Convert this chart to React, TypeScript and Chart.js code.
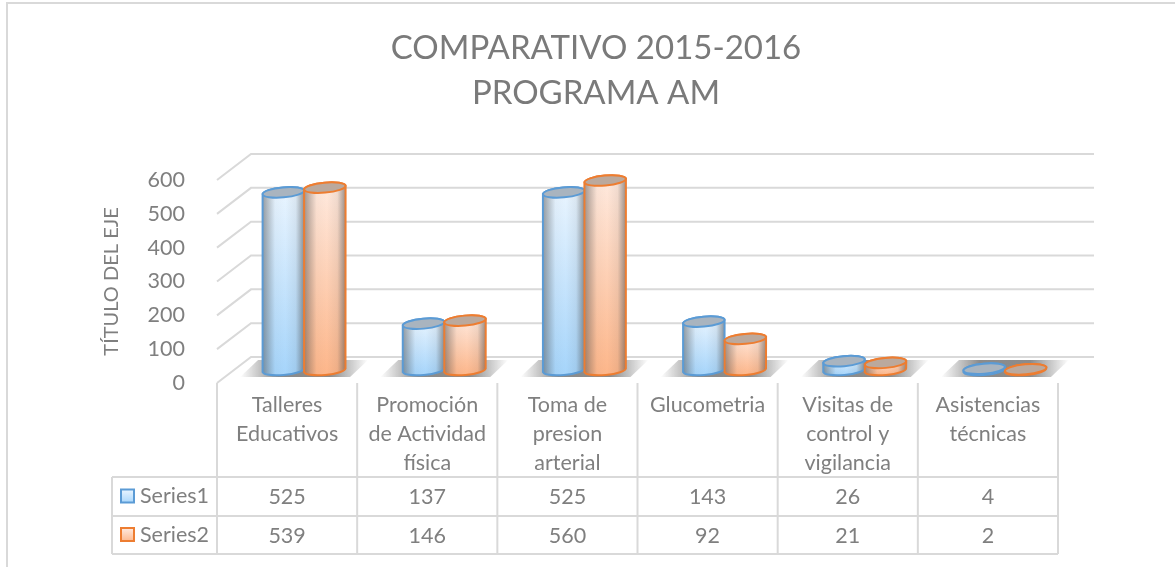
import React, { useEffect, useRef } from "react";
import { Chart, registerables } from "chart.js";

Chart.register(...registerables);

const categories = [
  ["Talleres", "Educativos"],
  ["Promoción", "de Actividad", "física"],
  ["Toma de", "presion", "arterial"],
  ["Glucometria"],
  ["Visitas de", "control y", "vigilancia"],
  ["Asistencias", "técnicas"],
];
const seriesNames = ["Series1", "Series2"];
const series1 = [525, 137, 525, 143, 26, 4];
const series2 = [539, 146, 560, 92, 21, 2];
const titleLines = ["COMPARATIVO 2015-2016", "PROGRAMA AM"];
const yAxisTitle = "TÍTULO DEL EJE";

const TEXT = "#7f7f7f";
const LINE = "#d9d9d9";
const FONT = "Lato, Carlito, 'Open Sans', sans-serif";
const FS = 21.5;

const palette = [
  { stroke: "#5b9bd5", top: "#eaf5ff", bottom: "#a6d5fb", cap: "#a9b4bf" },
  { stroke: "#ed7d31", top: "#ffeadf", bottom: "#fdb68a", cap: "#bba99d" },
];

function cylinder(ctx: CanvasRenderingContext2D, el: any, p: any) {
  const rx = el.width / 2;
  const ry = 5;
  const rot = -0.09;
  const x = el.x;
  const top = el.y;
  const base = el.base;
  const dy = rx * Math.sin(-rot);

  const body = () => {
    ctx.beginPath();
    ctx.moveTo(x - rx, top + dy);
    ctx.lineTo(x - rx, base + dy);
    ctx.ellipse(x, base, rx, ry, rot, Math.PI, 0, true);
    ctx.lineTo(x + rx, top - dy);
    ctx.ellipse(x, top, rx, ry, rot, 0, Math.PI, true);
    ctx.closePath();
  };

  body();
  const v = ctx.createLinearGradient(0, top - ry, 0, base + ry);
  v.addColorStop(0, p.top);
  v.addColorStop(1, p.bottom);
  ctx.fillStyle = v;
  ctx.fill();

  const h = ctx.createLinearGradient(x - rx, 0, x + rx, 0);
  h.addColorStop(0, "rgba(70,70,70,0.5)");
  h.addColorStop(0.3, "rgba(70,70,70,0.03)");
  h.addColorStop(0.55, "rgba(70,70,70,0)");
  h.addColorStop(0.8, "rgba(70,70,70,0.08)");
  h.addColorStop(1, "rgba(70,70,70,0.55)");
  ctx.fillStyle = h;
  ctx.fill();

  ctx.strokeStyle = p.stroke;
  ctx.lineWidth = 2;
  ctx.stroke();

  ctx.beginPath();
  ctx.ellipse(x, top, rx, ry, rot, 0, Math.PI * 2);
  ctx.fillStyle = p.cap;
  ctx.fill();
  ctx.stroke();
}

const excelPlugin = {
  id: "excelLook",
  afterLayout(chart: any) {
    // the title is centred on the whole frame, not on the plot
    chart.titleBlock.left += 17;
    chart.titleBlock.right += 17;
  },
  beforeDatasetsDraw(chart: any) {
    const { ctx, scales } = chart;
    const { x: xs, y: ys } = scales;
    const BACK_X = 34;
    const BACK_Y = -26;
    const RIGHT = 1094;
    const DX = 17;
    const DY = -13;

    // outer frame
    ctx.save();
    ctx.strokeStyle = LINE;
    ctx.lineWidth = 2;
    ctx.beginPath();
    ctx.moveTo(7, 567);
    ctx.lineTo(7, 3);
    ctx.lineTo(1175, 3);
    ctx.stroke();

    // walls
    ys.ticks.forEach((t: any) => {
      const py = ys.getPixelForValue(t.value);
      ctx.beginPath();
      ctx.moveTo(xs.left, py);
      ctx.lineTo(xs.left + BACK_X, py + BACK_Y);
      ctx.lineTo(RIGHT, py + BACK_Y);
      ctx.stroke();
    });

    // floor shadows
    categories.forEach((_, i) => {
      const c = xs.getPixelForTick(i) + DX;
      const g = ctx.createLinearGradient(c - 64, 0, c + 64, 0);
      g.addColorStop(0, "rgba(90,90,90,0)");
      g.addColorStop(0.3, "rgba(90,90,90,0.7)");
      g.addColorStop(0.7, "rgba(90,90,90,0.7)");
      g.addColorStop(1, "rgba(90,90,90,0)");
      ctx.fillStyle = g;
      ctx.beginPath();
      ctx.moveTo(c - 64, ys.bottom + DY + 7);
      ctx.lineTo(c - 46, ys.bottom + DY - 10);
      ctx.lineTo(c + 64, ys.bottom + DY - 10);
      ctx.lineTo(c + 46, ys.bottom + DY + 7);
      ctx.closePath();
      ctx.fill();
    });

    // cylinders
    ctx.translate(DX, DY);
    const m0 = chart.getDatasetMeta(0).data;
    const m1 = chart.getDatasetMeta(1).data;
    categories.forEach((_, i) => {
      cylinder(ctx, m0[i], palette[0]);
      cylinder(ctx, m1[i], palette[1]);
    });
    ctx.restore();
  },
  beforeDatasetDraw() {
    return false;
  },
  afterDraw(chart: any) {
    const { ctx, scales } = chart;
    const xs = scales.x;
    const colW = xs.width / categories.length;
    const headBottom = 477;
    const rowBottoms = [516, 554];
    const LEFT = 112;

    ctx.save();
    ctx.strokeStyle = LINE;
    ctx.lineWidth = 2;
    for (let i = 0; i <= categories.length; i++) {
      const px = xs.left + i * colW;
      ctx.beginPath();
      ctx.moveTo(px, xs.top);
      ctx.lineTo(px, rowBottoms[1]);
      ctx.stroke();
    }
    ctx.beginPath();
    ctx.moveTo(LEFT, headBottom);
    ctx.lineTo(LEFT, rowBottoms[1]);
    ctx.stroke();
    [headBottom, ...rowBottoms].forEach((py) => {
      ctx.beginPath();
      ctx.moveTo(LEFT, py);
      ctx.lineTo(xs.right, py);
      ctx.stroke();
    });

    ctx.font = `${FS}px ${FONT}`;
    ctx.fillStyle = TEXT;
    ctx.textBaseline = "middle";
    [series1, series2].forEach((vals, r) => {
      const top = r === 0 ? headBottom : rowBottoms[0];
      const cy = (top + rowBottoms[r]) / 2;
      ctx.textAlign = "center";
      ctx.fillStyle = TEXT;
      vals.forEach((v, i) => {
        ctx.fillText(String(v), xs.getPixelForTick(i), cy + 1);
      });
      ctx.textAlign = "left";
      ctx.fillText(seriesNames[r], 140, cy);
      const p = palette[r];
      const g = ctx.createLinearGradient(0, cy - 7, 0, cy + 7);
      g.addColorStop(0, p.top);
      g.addColorStop(1, p.bottom);
      ctx.fillStyle = g;
      ctx.strokeStyle = p.stroke;
      ctx.lineWidth = 2;
      ctx.beginPath();
      ctx.rect(121, cy - 7, 13, 13);
      ctx.fill();
      ctx.stroke();
      ctx.strokeStyle = LINE;
    });
    ctx.restore();
  },
};

export default function App() {
  const ref = useRef<HTMLCanvasElement>(null);
  useEffect(() => {
    const chart = new Chart(ref.current as HTMLCanvasElement, {
      type: "bar",
      data: {
        labels: categories as any,
        datasets: [
          { label: seriesNames[0], data: series1, backgroundColor: palette[0].bottom, borderColor: palette[0].stroke },
          { label: seriesNames[1], data: series2, backgroundColor: palette[1].bottom, borderColor: palette[1].stroke },
        ],
      },
      options: {
        responsive: false,
        animation: false,
        layout: { padding: { left: 100, right: 117, top: 0, bottom: 13 } },
        datasets: { bar: { barPercentage: 1, categoryPercentage: 0.592 } },
        plugins: {
          legend: { display: false },
          tooltip: { enabled: false },
          title: {
            display: true,
            text: titleLines,
            color: "#7a7a7a",
            font: { family: FONT, size: 33, weight: "normal", lineHeight: "45px" },
            padding: { top: 25.5, bottom: 64.5 },
          },
        },
        scales: {
          x: {
            grid: { display: false },
            border: { display: false },
            ticks: {
              color: TEXT,
              autoSkip: false,
              maxRotation: 0,
              minRotation: 0,
              padding: 0,
              font: { family: FONT, size: FS, lineHeight: "29px" },
            },
            afterFit(s: any) {
              s.height = 171;
            },
          },
          y: {
            min: 0,
            max: 600,
            grid: { display: false },
            border: { display: false },
            ticks: {
              stepSize: 100,
              color: TEXT,
              padding: 24,
              font: { family: FONT, size: FS },
            },
            title: {
              display: true,
              text: yAxisTitle,
              color: TEXT,
              padding: 0,
              font: { family: FONT, size: 20, weight: "normal" },
            },
            afterFit(s: any) {
              s.width = 117;
            },
          },
        },
      },
      plugins: [excelPlugin],
    } as any);
    return () => chart.destroy();
  }, []);
  return (
    <div style={{ position: "fixed", left: 0, top: 0, width: 1175, height: 567, background: "#fff" }}>
      <canvas ref={ref} width={1175} height={567} style={{ display: "block" }} />
    </div>
  );
}
